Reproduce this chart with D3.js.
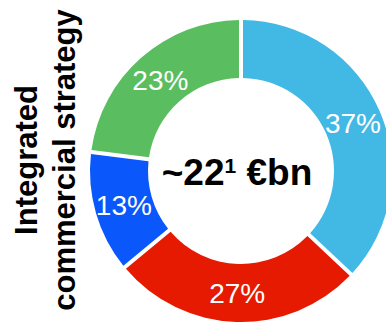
<!DOCTYPE html>
<html>
<head>
<meta charset="utf-8">
<script src="https://cdn.jsdelivr.net/npm/d3@7"></script>
<style>
  html, body { margin: 0; padding: 0; background: #fff; }
  svg { display: block; }
</style>
</head>
<body>
<svg id="chart" width="386" height="325"></svg>
<script>
// Revenue split of the integrated commercial strategy (shares in %)
const segments = ["Segment A", "Segment B", "Segment C", "Segment D"];
const shares = [37, 27, 13, 23];
const segmentColors = ["#42B9E5", "#E51A00", "#0A58FB", "#5ABE60"];
const axisTitle = ["Integrated", "commercial strategy"];
const totalMain = "~22";
const totalNote = "1";
const totalUnit = " €bn";

const svg = d3.select("#chart");
const cx = 241, cy = 171;
const outerR = 151, innerR = 93;

const data = segments.map((s, i) => ({ name: s, value: shares[i], color: segmentColors[i] }));

const pie = d3.pie().value(d => d.value).sort(null);
const arc = d3.arc()
  .innerRadius(innerR)
  .outerRadius(outerR)
  .padAngle(0.04)
  .padRadius(100);

const g = svg.append("g").attr("transform", `translate(${cx},${cy})`);
const arcs = pie(data);

g.selectAll("path.slice")
  .data(arcs)
  .join("path")
  .attr("class", "slice")
  .attr("d", arc)
  .attr("fill", d => d.data.color);

g.selectAll("text.pct")
  .data(arcs)
  .join("text")
  .attr("class", "pct")
  .attr("transform", d => `translate(${arc.centroid(d)})`)
  .attr("text-anchor", "middle")
  .attr("dy", "0.36em")
  .attr("fill", "#fff")
  .style("font-family", "'Liberation Sans', Arial, sans-serif")
  .style("font-size", "28px")
  .text(d => d.data.value + "%");

// Total in the middle of the ring
const total = g.append("text")
  .attr("x", -4)
  .attr("y", 14)
  .attr("text-anchor", "middle")
  .attr("fill", "#000")
  .style("font-family", "'Liberation Sans', Arial, sans-serif")
  .style("font-weight", "bold")
  .style("font-size", "37px");
total.append("tspan").text(totalMain);
total.append("tspan").attr("dy", "-12").style("font-size", "21px").text(totalNote);
total.append("tspan").attr("dy", "12").text(totalUnit);

// Rotated title on the left
const title = svg.append("text")
  .attr("transform", "translate(37,160) rotate(-90)")
  .attr("text-anchor", "middle")
  .attr("fill", "#000")
  .style("font-family", "'Liberation Sans', Arial, sans-serif")
  .style("font-weight", "bold")
  .style("font-size", "31px");
title.selectAll("tspan")
  .data(axisTitle)
  .join("tspan")
  .attr("x", 0)
  .attr("dy", (d, i) => i === 0 ? 0 : 38)
  .text(d => d);
</script>
</body>
</html>
